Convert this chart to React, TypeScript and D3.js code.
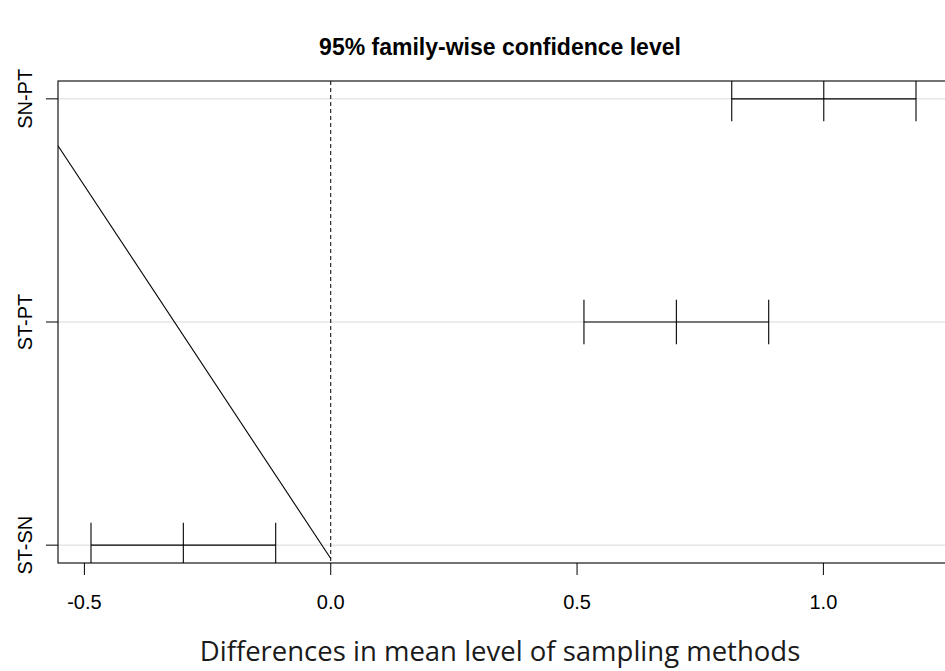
import React from "react";
import * as d3 from "d3";

// Tukey HSD comparisons of sampling methods
const comparisons = ["SN-PT", "ST-PT", "ST-SN"];
const diffs = [1.0008, 0.7016, -0.2992];
const lowers = [0.814, 0.514, -0.4866];
const uppers = [1.188, 0.889, -0.1117];
const xTicks = [-0.5, 0.0, 0.5, 1.0];
const xTickLabels = ["-0.5", "0.0", "0.5", "1.0"];
// stray reference segment drawn across the panel
const strayX = [-0.5536, 0.0];
const strayY = [2.79, 0.94];

const W = 945;
const H = 671;
const left = 58;
const right = 949;
const top = 81;
const bottom = 563;

export default function App() {
  const n = comparisons.length;
  const allX = [...lowers, ...uppers];
  const xmin = d3.min(allX)!;
  const xmax = d3.max(allX)!;
  const pad = (xmax - xmin) * 0.04;
  const x = d3.scaleLinear().domain([xmin - pad, xmax + pad]).range([left, right]);
  const ypad = (n - 1) * 0.04;
  const y = d3.scaleLinear().domain([1 - ypad, n + ypad]).range([bottom, top]);
  const yPos = (i: number) => n - i; // first comparison at top
  const half = 0.1; // whisker half height in y units

  const strayLine = d3.line<number>()
    .x((_, i) => x(strayX[i]))
    .y((d) => y(d))(strayY);

  const font = "Liberation Sans, Arial, Helvetica, sans-serif";

  return (
    <svg width={W} height={H} style={{ position: "absolute", left: 0, top: 0, background: "#fff" }}>
      <defs>
        <clipPath id="plotClip">
          <rect x={left} y={top} width={right - left} height={bottom - top} />
        </clipPath>
      </defs>
      <g clipPath="url(#plotClip)">
        {comparisons.map((c, i) => (
          <line key={c} x1={left} x2={right} y1={y(yPos(i))} y2={y(yPos(i))} stroke="#d9d9d9" strokeWidth={1} />
        ))}
        <line x1={x(0)} x2={x(0)} y1={top} y2={bottom} stroke="#000" strokeDasharray="4,3" strokeWidth={1} />
        {comparisons.map((c, i) => {
          const yy = y(yPos(i));
          const yt = y(yPos(i) + half);
          const yb = y(yPos(i) - half);
          return (
            <g key={c} stroke="#000" strokeWidth={1.1}>
              <line x1={x(lowers[i])} x2={x(uppers[i])} y1={yy} y2={yy} />
              {[lowers[i], diffs[i], uppers[i]].map((v, k) => (
                <line key={k} x1={x(v)} x2={x(v)} y1={yt} y2={yb} />
              ))}
            </g>
          );
        })}
        <path d={strayLine || ""} fill="none" stroke="#000" strokeWidth={1.1} />
      </g>
      {/* frame */}
      <rect x={left} y={top} width={right - left} height={bottom - top} fill="none" stroke="#000" strokeWidth={1.1} />
      {/* x axis */}
      {xTicks.map((t, i) => (
        <g key={t}>
          <line x1={x(t)} x2={x(t)} y1={bottom} y2={bottom + 12} stroke="#000" strokeWidth={1} />
          <text x={x(t)} y={609} textAnchor="middle" fontFamily={font} fontSize={20} fill="#000">
            {xTickLabels[i]}
          </text>
        </g>
      ))}
      {/* y axis */}
      {comparisons.map((c, i) => {
        const yy = y(yPos(i));
        return (
          <g key={c}>
            <line x1={left - 12} x2={left} y1={yy} y2={yy} stroke="#000" strokeWidth={1} />
            <text
              transform={`translate(32,${yy}) rotate(-90)`}
              textAnchor="middle"
              fontFamily={font}
              fontSize={20}
              fill="#000"
            >
              {c}
            </text>
          </g>
        );
      })}
      <text x={500} y={55} textAnchor="middle" fontFamily={font} fontWeight="bold" fontSize={23} fill="#000">
        95% family-wise confidence level
      </text>
      <text x={500} y={661} textAnchor="middle" fontFamily="Open Sans, sans-serif" fontSize={27.5} fill="#1a1a1a">
        Differences in mean level of sampling methods
      </text>
    </svg>
  );
}
